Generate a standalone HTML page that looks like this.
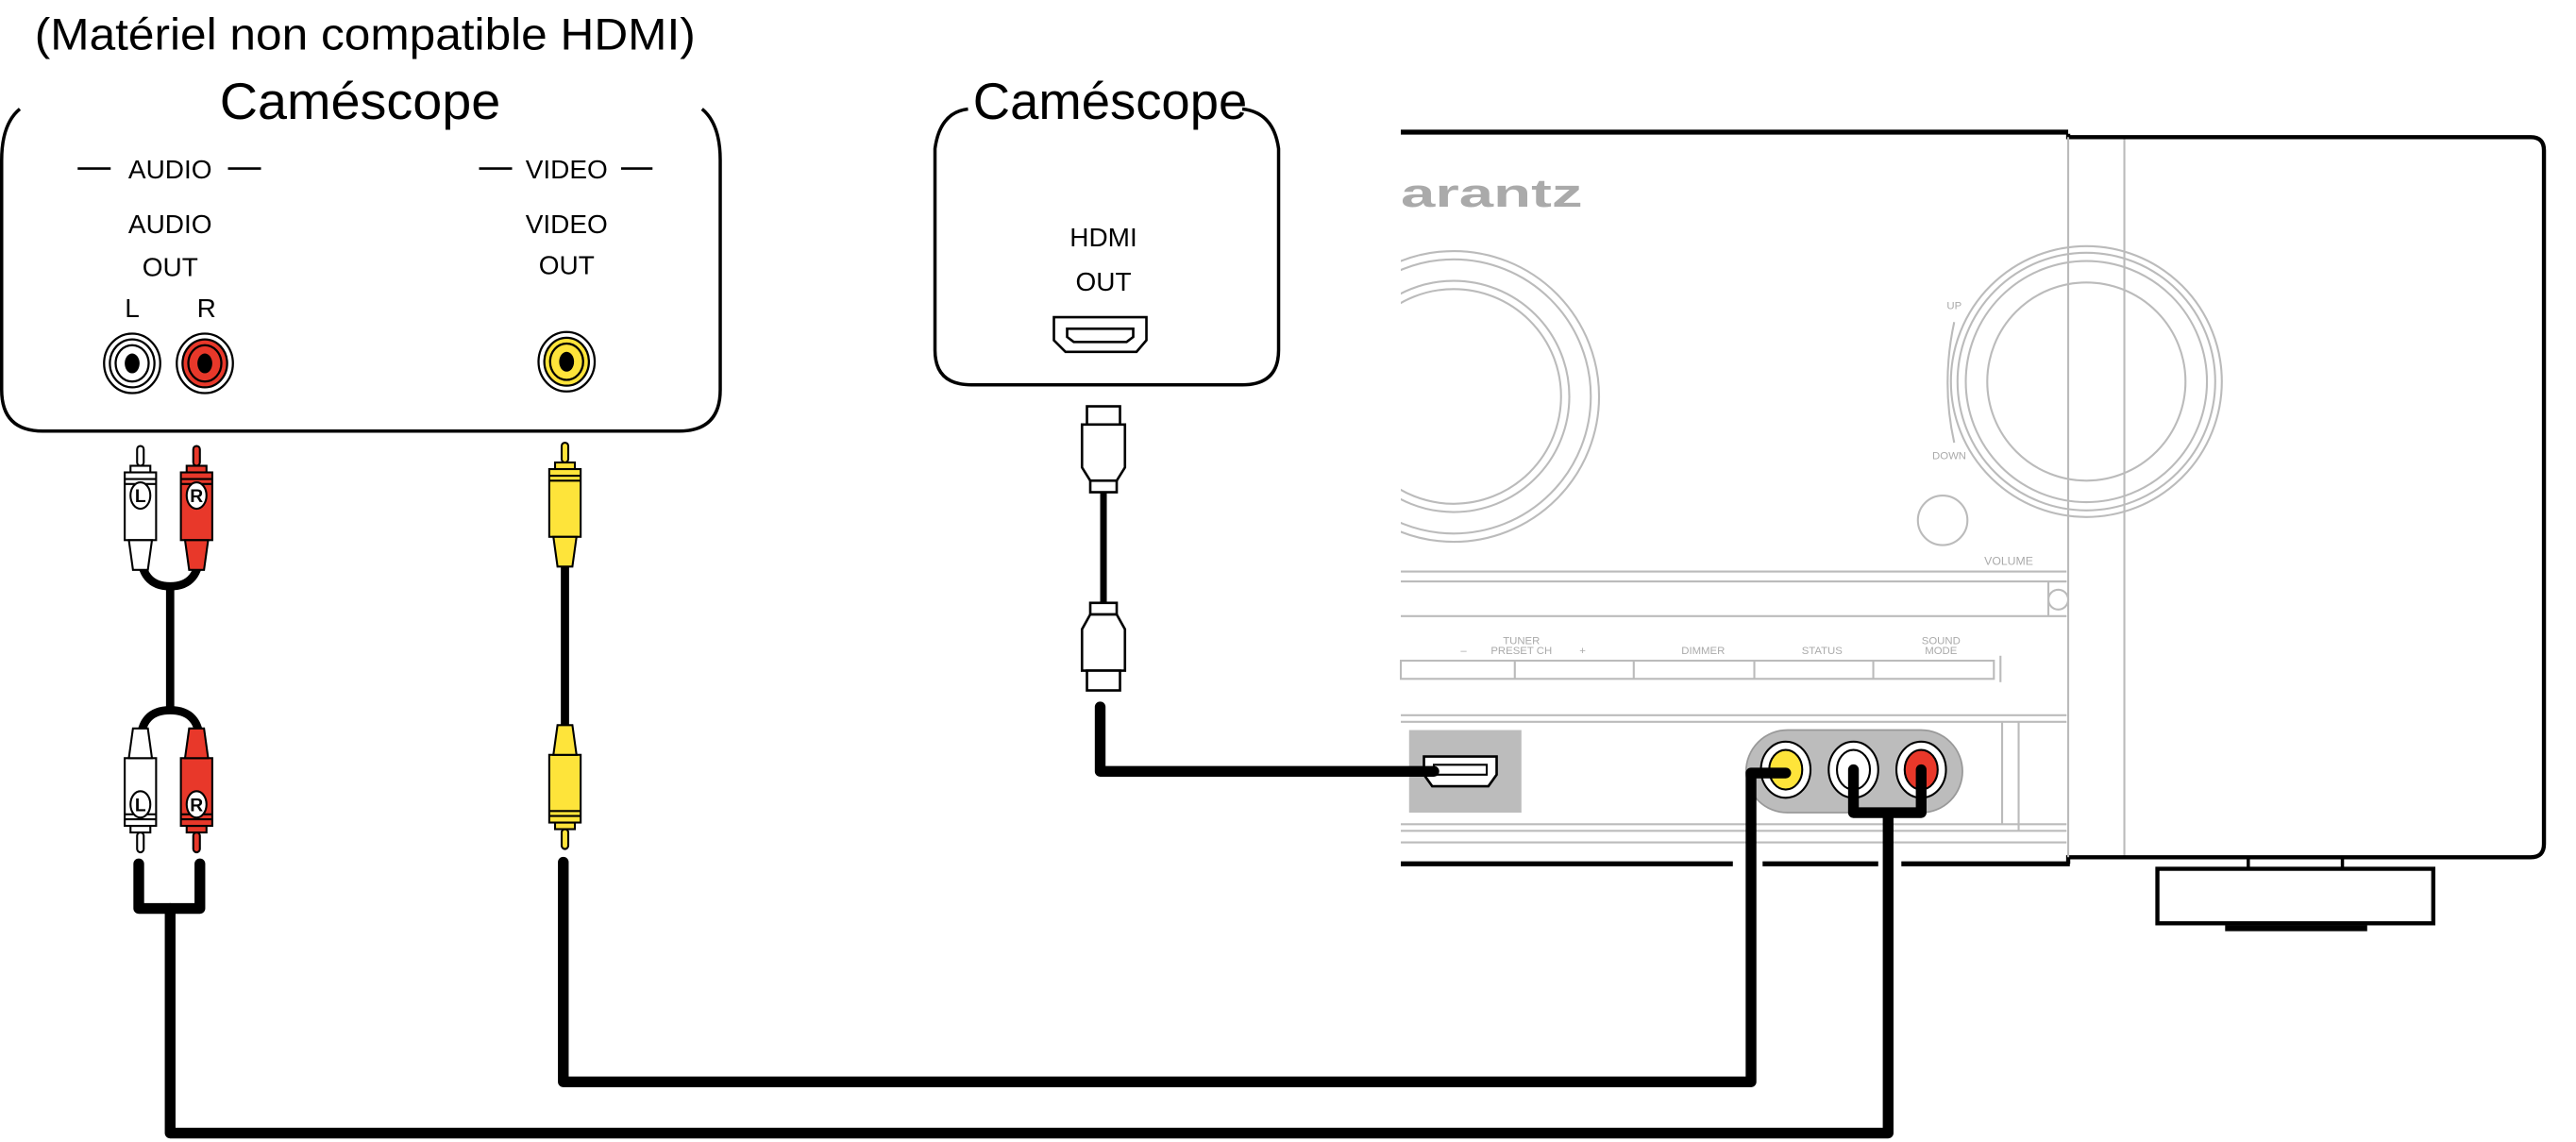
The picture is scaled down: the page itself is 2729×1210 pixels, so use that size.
<!DOCTYPE html>
<html><head><meta charset="utf-8"><style>
html,body{margin:0;padding:0;background:#fff}
svg{display:block}
text{font-family:"Liberation Sans",sans-serif}
</style></head><body>
<svg width="2729" height="1210" viewBox="0 0 1559.4 691.4" xmlns="http://www.w3.org/2000/svg">
<rect width="1559.4" height="691.4" fill="#fff"/>
<!-- titles -->
<text x="221" y="30" font-size="27" text-anchor="middle" textLength="400" lengthAdjust="spacingAndGlyphs">(Matériel non compatible HDMI)</text>
<text x="218" y="72" font-size="31" text-anchor="middle" textLength="170" lengthAdjust="spacingAndGlyphs">Caméscope</text>
<!-- receiver knob (masked) -->
<g fill="none" stroke="#bbb" stroke-width="1.2">
<circle cx="880" cy="240" r="88"/><circle cx="880" cy="240" r="83"/><circle cx="880" cy="240" r="70"/><circle cx="880" cy="240" r="65"/>
</g>
<rect x="778" y="60" width="70" height="520" fill="#fff"/>
<text x="672" y="72" font-size="31" text-anchor="middle" textLength="166" lengthAdjust="spacingAndGlyphs">Caméscope</text>
<!-- left box -->
<path d="M12,66 Q1,75 1,97 L1,236 Q1,261 26,261 L411,261 Q436,261 436,236 L436,97 Q436,75 425,66" fill="none" stroke="#000" stroke-width="2"/>
<g font-size="16" text-anchor="middle">
<text x="103" y="108">AUDIO</text><text x="343" y="108">VIDEO</text>
<text x="103" y="141">AUDIO</text><text x="103" y="167">OUT</text>
<text x="343" y="141">VIDEO</text><text x="343" y="166">OUT</text>
<text x="80" y="192">L</text><text x="125" y="192">R</text>
</g>
<g stroke="#000" stroke-width="1.5">
<line x1="47" y1="102" x2="67" y2="102"/><line x1="138" y1="102" x2="158" y2="102"/>
<line x1="290" y1="102" x2="310" y2="102"/><line x1="376" y1="102" x2="395" y2="102"/>
</g>
<!-- jacks -->
<g stroke="#000" stroke-width="1.3">
<ellipse cx="80" cy="220" rx="17" ry="18" fill="#fff"/><ellipse cx="80" cy="220" rx="13.5" ry="14.5" fill="#fff"/><ellipse cx="80" cy="220" rx="10" ry="11" fill="#fff"/>
<ellipse cx="124" cy="220" rx="17" ry="18" fill="#fff"/><ellipse cx="124" cy="220" rx="13.5" ry="14.5" fill="#e8382a"/><ellipse cx="124" cy="220" rx="10" ry="11" fill="#e8382a"/>
<ellipse cx="343" cy="219" rx="17" ry="18" fill="#fff"/><ellipse cx="343" cy="219" rx="13.5" ry="14.5" fill="#fee43a"/><ellipse cx="343" cy="219" rx="10" ry="11" fill="#fee43a"/>
</g>
<ellipse cx="80" cy="220" rx="4.5" ry="6" fill="#000"/><ellipse cx="124" cy="220" rx="4.5" ry="6" fill="#000"/><ellipse cx="343" cy="219" rx="4.5" ry="6" fill="#000"/>
<!-- right camcorder box -->
<path d="M586,66 Q569,68 566,90 L566,212 Q566,233 588,233 L752,233 Q774,233 774,212 L774,90 Q771,68 752,66" fill="none" stroke="#000" stroke-width="2"/>
<g font-size="16" text-anchor="middle"><text x="668" y="149">HDMI</text><text x="668" y="176">OUT</text></g>
<path d="M638,192 L694,192 L694,206 L688,213 L645,213 L638,206 Z" fill="#fff" stroke="#000" stroke-width="1.5"/>
<path d="M646,199 L686,199 L686,204 L682,207 L650,207 L646,204 Z" fill="#fff" stroke="#000" stroke-width="1.5"/>
<!-- HDMI cable -->
<g fill="#fff" stroke="#000" stroke-width="1.5">
<rect x="658" y="246" width="20" height="11"/>
<path d="M655,257 L681,257 L681,283 L676,291 L660,291 L655,283 Z"/>
<rect x="660" y="291" width="16" height="7"/>
</g>
<line x1="668" y1="298" x2="668" y2="365" stroke="#000" stroke-width="4"/>
<g fill="#fff" stroke="#000" stroke-width="1.5">
<rect x="660" y="365" width="16" height="7"/>
<path d="M660,372 L676,372 L681,381 L681,406 L655,406 L655,381 Z"/>
<rect x="658" y="406" width="20" height="12"/>
</g>
<!-- receiver -->
<text x="848" y="125" font-family="Liberation Serif,serif" font-weight="bold" font-size="24" fill="#aaa" textLength="110" lengthAdjust="spacingAndGlyphs">arantz</text>
<g fill="none" stroke="#bbb" stroke-width="1.2">
<circle cx="1263" cy="231" r="82"/><circle cx="1263" cy="231" r="78"/><circle cx="1263" cy="231" r="73"/><circle cx="1263" cy="231" r="60"/>
<path d="M1183,195 Q1175,232 1183,268"/>
<circle cx="1176" cy="315" r="15"/>
<line x1="1286" y1="84" x2="1286" y2="519"/>
<line x1="848" y1="346" x2="1251" y2="346"/><line x1="848" y1="352" x2="1251" y2="352"/><line x1="848" y1="373" x2="1251" y2="373"/>
<path d="M1251,352 L1240,352 L1240,373"/><circle cx="1246" cy="363" r="6"/>
<rect x="848" y="400" width="359" height="11"/><line x1="1211" y1="397" x2="1211" y2="413"/>
<line x1="917" y1="400" x2="917" y2="411"/><line x1="989" y1="400" x2="989" y2="411"/><line x1="1062" y1="400" x2="1062" y2="411"/><line x1="1134" y1="400" x2="1134" y2="411"/>
<line x1="848" y1="433" x2="1251" y2="433"/><line x1="848" y1="437" x2="1251" y2="437"/>
<line x1="848" y1="499" x2="1251" y2="499"/><line x1="848" y1="503" x2="1251" y2="503"/><line x1="848" y1="510" x2="1251" y2="510"/>
<line x1="1212" y1="437" x2="1212" y2="499"/><line x1="1222" y1="437" x2="1222" y2="503"/>
</g>
<g font-size="6.5" fill="#aaa" text-anchor="middle">
<text x="1183" y="187">UP</text><text x="1180" y="278">DOWN</text><text x="1216" y="342" font-size="7">VOLUME</text>
<text x="886" y="396">–</text><text x="921" y="390">TUNER</text><text x="921" y="396">PRESET CH</text><text x="958" y="396">+</text>
<text x="1031" y="396">DIMMER</text><text x="1103" y="396">STATUS</text><text x="1175" y="390">SOUND</text><text x="1175" y="396">MODE</text>
</g>
<rect x="853" y="442" width="68" height="50" fill="#bcbcbc"/>
<path d="M862,458 L906,458 L906,469 L901,476 L867,476 L862,469 Z" fill="#fff" stroke="#000" stroke-width="1.5"/>
<path d="M868,463 L900,463 L900,469 L868,469 Z" fill="#fff" stroke="#000" stroke-width="1.2"/>
<rect x="1057" y="442" width="131" height="50" rx="25" fill="#bcbcbc" stroke="#999" stroke-width="1"/>
<g stroke="#000" stroke-width="1.2">
<ellipse cx="1081" cy="466" rx="15" ry="17" fill="#fff"/><ellipse cx="1081" cy="466" rx="10" ry="12" fill="#fee43a"/>
<ellipse cx="1122" cy="466" rx="15" ry="17" fill="#fff"/><ellipse cx="1122" cy="466" rx="10" ry="12" fill="#fff"/>
<ellipse cx="1163" cy="466" rx="15" ry="17" fill="#fff"/><ellipse cx="1163" cy="466" rx="10" ry="12" fill="#e8382a"/>
</g>
<!-- receiver black outline -->
<line x1="848" y1="80" x2="1252" y2="80" stroke="#000" stroke-width="3"/>
<path d="M1252,81 L1252,83 L1532,83 Q1540,83 1540,91 L1540,511 Q1540,519 1532,519 L1252,519 L1252,523" fill="none" stroke="#000" stroke-width="2.5"/>
<line x1="1252" y1="83" x2="1252" y2="519" stroke="#bbb" stroke-width="1.2"/>
<path d="M848,523 L1049,523 M1067,523 L1137,523 M1151,523 L1253,523" stroke="#000" stroke-width="3"/>
<rect x="1306" y="526" width="167" height="33" fill="#fff" stroke="#000" stroke-width="2.5"/>
<line x1="1361" y1="519" x2="1361" y2="526" stroke="#000" stroke-width="2"/><line x1="1418" y1="519" x2="1418" y2="526" stroke="#000" stroke-width="2"/>
<line x1="1347" y1="562" x2="1433" y2="562" stroke="#000" stroke-width="3.5"/>
<!-- connection lines -->
<g fill="none" stroke="#000" stroke-width="6.5" stroke-linecap="round" stroke-linejoin="round">
<path d="M666,428 L666,467 L868,467"/>
<path d="M341,522 L341,655 L1060,655 L1060,468 L1081,468"/>
<path d="M1122,466 L1122,492 L1163,492 L1163,466 M1143,492 L1143,686 L103,686 L103,550"/>
<path d="M84,523 L84,550 L121,550 L121,523"/>
</g>
<!-- RCA cables -->
<g fill="none" stroke="#000" stroke-width="5">
<path d="M85,326 L85,333 Q85,355 103,355 Q121,355 121,333 L121,326"/>
<line x1="103" y1="355" x2="103" y2="430"/>
<path d="M85,458 L85,450 Q85,430 103,430 Q121,430 121,450 L121,458"/>
<line x1="342" y1="326" x2="342" y2="456"/>
</g>
<defs>
<g id="plugT"><rect x="-2" y="0" width="4" height="12" rx="2"/><rect x="-6" y="12" width="12" height="4"/><rect x="-9.5" y="16" width="19" height="41"/><line x1="-9.5" y1="20" x2="9.5" y2="20"/><line x1="-9.5" y1="23" x2="9.5" y2="23"/><path d="M-7,57 L7,57 L4.5,75 L-4.5,75 Z"/></g>
</defs>
<g stroke="#000" stroke-width="1.2">
<use href="#plugT" x="85" y="270" fill="#fff"/>
<use href="#plugT" x="119" y="270" fill="#e8382a"/>
<use href="#plugT" x="342" y="268" fill="#fee43a"/>
<use href="#plugT" transform="translate(85,516) scale(1,-1)" fill="#fff"/>
<use href="#plugT" transform="translate(119,516) scale(1,-1)" fill="#e8382a"/>
<use href="#plugT" transform="translate(342,514) scale(1,-1)" fill="#fee43a"/>
</g>
<g stroke="#000" stroke-width="1.2" fill="#fff">
<ellipse cx="85" cy="300" rx="6" ry="8"/><ellipse cx="119" cy="300" rx="6" ry="8"/>
<ellipse cx="85" cy="487" rx="6" ry="8"/><ellipse cx="119" cy="487" rx="6" ry="8"/>
</g>
<g font-size="11" font-weight="bold" text-anchor="middle">
<text x="85" y="304">L</text><text x="119" y="304">R</text><text x="85" y="491">L</text><text x="119" y="491">R</text>
</g>
</svg>
</body></html>
